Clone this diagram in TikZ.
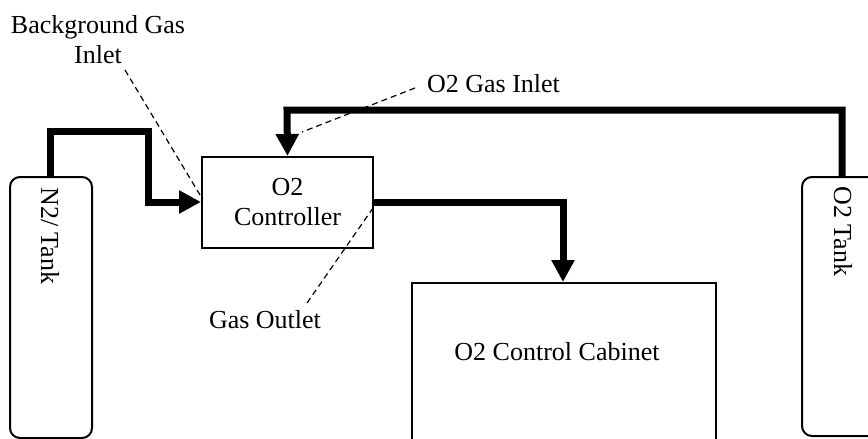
\documentclass[tikz,border=0pt]{standalone}
\usepackage{fontspec}
\setmainfont{Liberation Serif}
\usetikzlibrary{arrows.meta}
\usetikzlibrary{positioning}
\tikzset{
    box/.style={draw, line width=1pt, inner sep=0pt},
    tank/.style={box, rounded corners=5pt, minimum width=41pt},
    pipe/.style={line width=3.5pt, -{Triangle[width=11pt,length=11pt]}},
    pointer/.style={line width=0.6pt, dash pattern=on 3pt off 2pt},
}

\begin{document}
\begin{tikzpicture}[x=0.5pt, y=-0.5pt, font=\fontsize{13}{15}\selectfont]
        \path[use as bounding box, clip] (0, 0) rectangle (868, 439);

        \node[tank, minimum height=130.5pt] (n2) at (51, 307.5) {};
        \node[tank, minimum height=129.5pt] (o2) at (843, 306.5) {};
        \node[box, minimum width=85.5pt, minimum height=45.5pt, align=center] (ctrl) at (287.5, 202.5) {O2\\Controller};
        \node[box, minimum width=152pt, minimum height=93.5pt] (cab) at (564, 376.5) {};

        \node[rotate=-90, anchor=west, inner sep=0pt] (n2text) at (50, 187) {N2/ Tank};
        \node[rotate=-90, anchor=west, inner sep=0pt] (o2text) at (843, 186) {O2 Tank};
        \node (cabtext) at (557, 352) {O2 Control Cabinet};

        % gas lines
        \draw[pipe] (n2.north -| 50, 0) -- (50, 131) -- (148, 131) -- (148, 202) -- (ctrl.west |- 0, 202);
        \draw[pipe] (o2.north -| 842, 0) -- (842, 110) -- (287, 110) -- (ctrl.north);
        \draw[pipe] (ctrl.east |- 0, 202) -- (563, 202) -- (cab.north -| 563, 0);

        % port labels
        \node[align=center] (bginlet) at (98, 40) {Background Gas\\Inlet};
        \node[anchor=west] (o2inlet) at (420, 84) {O2 Gas Inlet};
        \node (outlet) at (265, 320) {Gas Outlet};

        \coordinate (bgport) at (200, 195);
        \coordinate (o2port) at (302, 132);
        \coordinate (outport) at (373, 208);

        \draw[pointer] (125, 70) -- (bgport);
        \draw[pointer] (415, 88) -- (o2port);
        \draw[pointer] (307, 303) -- (outport);
    \end{tikzpicture}
\end{document}
